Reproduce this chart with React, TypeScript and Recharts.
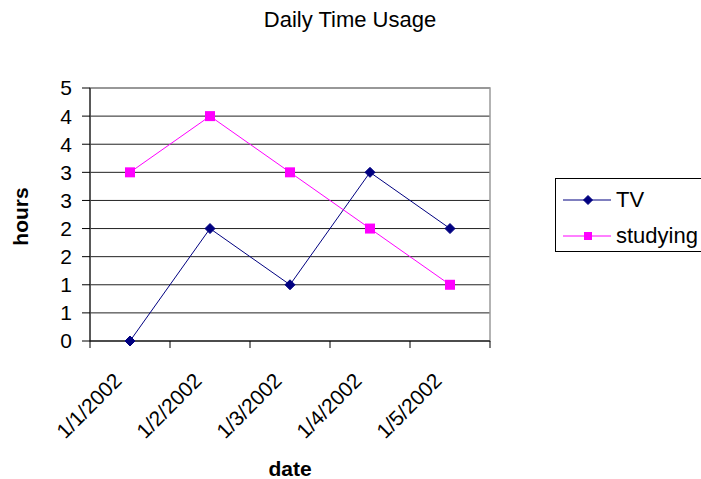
import { LineChart, Line, XAxis, YAxis, CartesianGrid, ReferenceArea, Legend } from "recharts"

const dates = ["1/1/2002", "1/2/2002", "1/3/2002", "1/4/2002", "1/5/2002"]
const tvHours = [0, 2, 1, 3, 2]
const studyingHours = [3, 4, 3, 2, 1]
const hourTicks = [0, 0.5, 1, 1.5, 2, 2.5, 3, 3.5, 4, 4.5]
const dayBounds = [0, 1, 2, 3, 4, 5]
const dayCenters = [0.5, 1.5, 2.5, 3.5, 4.5]

const data = dates.map((date, i) => ({
  date,
  pos: dayCenters[i],
  tv: tvHours[i],
  studying: studyingHours[i],
}))

const FONT = '"Liberation Sans", Arial, sans-serif'
const TV_COLOR = "#000080"
const STUDY_COLOR = "#ff00ff"

function Diamond({ cx, cy, r = 5, color }: any) {
  if (cx == null || cy == null) return null
  return (
    <polygon
      points={`${cx},${cy - r} ${cx + r},${cy} ${cx},${cy + r} ${cx - r},${cy}`}
      fill={color}
      stroke={color}
    />
  )
}

function Square({ cx, cy, s = 9, color }: any) {
  if (cx == null || cy == null) return null
  return <rect x={cx - s / 2} y={cy - s / 2} width={s} height={s} fill={color} />
}

// rotated date labels, text end sits just left of the category centre
function DateTick({ x, y, payload }: any) {
  const label = dates[dayCenters.indexOf(payload.value)]
  const ax = x - 7
  const ay = y + 33
  return (
    <text
      x={ax}
      y={ay}
      transform={`rotate(-45 ${ax} ${ay})`}
      textAnchor="end"
      fontFamily={FONT}
      fontSize={21}
      fill="#000"
    >
      {label}
    </text>
  )
}

function LegendBox() {
  const rows = [
    { name: "TV", color: TV_COLOR, top: 11, marker: "diamond" },
    { name: "studying", color: STUDY_COLOR, top: 47, marker: "square" },
  ]
  return (
    <div
      style={{
        position: "relative",
        width: 160,
        height: 74,
        boxSizing: "border-box",
        border: "1px solid #000",
        background: "#fff",
        fontFamily: FONT,
        fontSize: 22,
        color: "#000",
      }}
    >
      {rows.map((r) => (
        <div
          key={r.name}
          style={{ position: "absolute", left: 7, top: r.top, height: 20, display: "flex", alignItems: "center" }}
        >
          <svg width={48} height={20}>
            <line x1={0} y1={10} x2={48} y2={10} stroke={r.color} strokeWidth={1} />
            {r.marker === "diamond" ? (
              <Diamond cx={25} cy={10} r={4.5} color={r.color} />
            ) : (
              <Square cx={25} cy={10} s={8} color={r.color} />
            )}
          </svg>
          <span style={{ marginLeft: 5, whiteSpace: "nowrap" }}>{r.name}</span>
        </div>
      ))}
    </div>
  )
}

export default function App() {
  return (
    <div style={{ position: "absolute", left: 0, top: 0, width: 701, height: 479, background: "#fff", overflow: "hidden" }}>
      <div
        style={{
          position: "absolute",
          top: 7,
          left: 0,
          width: 700,
          textAlign: "center",
          fontFamily: FONT,
          fontSize: 22,
          color: "#000",
          zIndex: 2,
        }}
      >
        Daily Time Usage
      </div>
      <LineChart width={701} height={479} data={data} margin={{ top: 88, right: 211, left: 0, bottom: 0 }}>
        <CartesianGrid vertical={false} stroke="#222" />
        <XAxis
          xAxisId="b"
          type="number"
          dataKey="pos"
          domain={[0, 5]}
          ticks={dayBounds}
          interval={0}
          height={8}
          tickSize={7}
          tickFormatter={() => ""}
          stroke="#000"
          axisLine={{ stroke: "#000" }}
          tickLine={{ stroke: "#000" }}
          allowDataOverflow
        />
        <XAxis
          xAxisId="l"
          type="number"
          dataKey="pos"
          domain={[0, 5]}
          ticks={dayCenters}
          interval={0}
          height={130}
          axisLine={false}
          tickLine={false}
          tickSize={0}
          tickMargin={0}
          tick={<DateTick />}
          label={{
            content: ({ viewBox }: any) => (
              <text
                x={viewBox.x + viewBox.width / 2}
                y={viewBox.y + 127}
                textAnchor="middle"
                fontFamily={FONT}
                fontWeight="bold"
                fontSize={21}
                fill="#000"
              >
                date
              </text>
            ),
          }}
        />
        <YAxis
          type="number"
          domain={[0, 4.5]}
          ticks={hourTicks}
          interval={0}
          width={90}
          tickSize={8}
          tickMargin={10}
          tickFormatter={(v: number) => String(Math.round(v))}
          tick={{ fontFamily: FONT, fontSize: 21, fill: "#000" }}
          axisLine={{ stroke: "#000" }}
          tickLine={{ stroke: "#000" }}
          label={{
            content: ({ viewBox }: any) => {
              const x = viewBox.x + 28
              const y = viewBox.y + viewBox.height / 2 + 2
              return (
                <text
                  x={x}
                  y={y}
                  transform={`rotate(-90 ${x} ${y})`}
                  textAnchor="middle"
                  fontFamily={FONT}
                  fontWeight="bold"
                  fontSize={21}
                  fill="#000"
                >
                  hours
                </text>
              )
            },
          }}
        />
        <ReferenceArea xAxisId="b" x1={0} x2={5} y1={0} y2={4.5} fill="none" stroke="#9a9a9a" strokeWidth={1.5} />
        <Line
          xAxisId="b"
          type="linear"
          dataKey="tv"
          name="TV"
          stroke={TV_COLOR}
          strokeWidth={1}
          dot={(p: any) => <Diamond key={`tv-${p.index}`} cx={p.cx} cy={p.cy} r={5} color={TV_COLOR} />}
          activeDot={false}
          isAnimationActive={false}
        />
        <Line
          xAxisId="b"
          type="linear"
          dataKey="studying"
          name="studying"
          stroke={STUDY_COLOR}
          strokeWidth={1}
          dot={(p: any) => <Square key={`st-${p.index}`} cx={p.cx} cy={p.cy} s={10} color={STUDY_COLOR} />}
          activeDot={false}
          isAnimationActive={false}
        />
        <Legend
          layout="horizontal"
          verticalAlign="middle"
          align="center"
          content={() => <LegendBox />}
          wrapperStyle={{ position: "absolute", left: 555, top: 178, width: 160, height: 74 }}
        />
      </LineChart>
    </div>
  )
}
